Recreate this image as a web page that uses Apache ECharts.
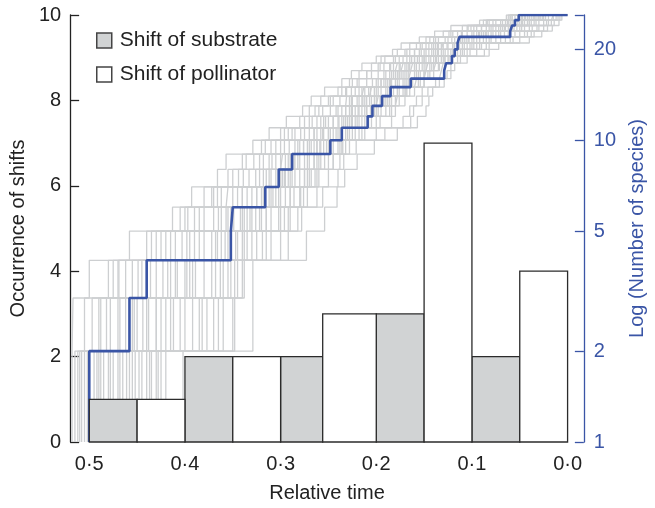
<!DOCTYPE html>
<html><head><meta charset="utf-8">
<script src="https://cdn.jsdelivr.net/npm/echarts@6/dist/echarts.min.js"></script>
<style>html,body{margin:0;padding:0;background:#fff}#c{width:655px;height:508px}</style>
</head><body><div id="c"></div>
<script>
// Histogram of shifts (relative time bins, left axis)
const binStart = [0.5, 0.45, 0.4, 0.35, 0.3, 0.256, 0.2, 0.15, 0.1, 0.05];
const binEnd   = [0.45, 0.4, 0.35, 0.3, 0.256, 0.2, 0.15, 0.1, 0.05, 0.0];
const shiftCounts = [1, 1, 2, 2, 2, 3, 3, 7, 2, 4];
const shiftTypes = ['substrate','pollinator','substrate','pollinator','substrate','pollinator','substrate','pollinator','substrate','pollinator'];

// Lineage-through-time: time at which lineage count rises to 2,3,...,26
const blueTimes = [0.500,0.458,0.440,0.352,0.350,0.316,0.302,0.288,0.248,0.236,0.209,0.204,0.194,0.185,0.164,0.129,0.127,0.121,0.118,0.115,0.113,0.060,0.058,0.055,0.051];

const grayRun1  = [0.518,0.517,0.500,0.458,0.413,0.393,0.366,0.357,0.329,0.312,0.294,0.277,0.268,0.254,0.236,0.226,0.215,0.200,0.183,0.174,0.155,0.139,0.122,0.092,0.064];
const grayRun2  = [0.402,0.329,0.329,0.273,0.254,0.241,0.233,0.220,0.202,0.178,0.157,0.148,0.145,0.141,0.129,0.122,0.118,0.105,0.082,0.072,0.040,0.027,0.016,0.009,0.006];
const grayRun3  = [0.502,0.497,0.469,0.430,0.397,0.370,0.339,0.336,0.316,0.292,0.267,0.264,0.250,0.231,0.225,0.210,0.196,0.191,0.168,0.154,0.144,0.122,0.101,0.084,0.055];
const grayRun4  = [0.490,0.453,0.449,0.403,0.357,0.355,0.326,0.309,0.291,0.279,0.253,0.232,0.231,0.226,0.204,0.190,0.186,0.176,0.153,0.138,0.121,0.111,0.090,0.063,0.047];
const grayRun5  = [0.461,0.444,0.423,0.366,0.349,0.325,0.300,0.298,0.272,0.245,0.239,0.219,0.207,0.205,0.188,0.174,0.172,0.157,0.132,0.130,0.103,0.083,0.080,0.055,0.035];
const grayRun6  = [0.455,0.405,0.389,0.347,0.326,0.302,0.280,0.275,0.259,0.232,0.205,0.200,0.198,0.186,0.166,0.164,0.162,0.143,0.117,0.113,0.092,0.072,0.053,0.042,0.032];
const grayRun7  = [0.437,0.377,0.363,0.319,0.302,0.279,0.260,0.254,0.240,0.212,0.184,0.180,0.178,0.169,0.150,0.148,0.146,0.129,0.102,0.098,0.075,0.055,0.037,0.030,0.023];
const grayRun8  = [0.420,0.348,0.338,0.292,0.278,0.256,0.240,0.234,0.221,0.191,0.164,0.161,0.158,0.152,0.134,0.132,0.130,0.115,0.087,0.082,0.057,0.038,0.021,0.017,0.015];
const grayRun9  = [0.500,0.470,0.455,0.410,0.370,0.345,0.318,0.300,0.280,0.255,0.230,0.215,0.200,0.185,0.170,0.158,0.150,0.135,0.115,0.100,0.080,0.060,0.040,0.025,0.015];
const grayRun10 = [0.430,0.350,0.345,0.300,0.290,0.280,0.270,0.265,0.255,0.240,0.225,0.210,0.205,0.195,0.180,0.172,0.165,0.155,0.140,0.132,0.118,0.105,0.090,0.070,0.050];
const grayRun11 = [0.475,0.420,0.400,0.380,0.335,0.310,0.290,0.285,0.265,0.262,0.245,0.225,0.215,0.213,0.195,0.180,0.178,0.165,0.160,0.145,0.135,0.110,0.098,0.075,0.060];
const grayRun12 = [0.510,0.430,0.395,0.340,0.315,0.290,0.275,0.245,0.235,0.222,0.215,0.190,0.170,0.160,0.158,0.140,0.138,0.125,0.108,0.090,0.065,0.045,0.030,0.020,0.010];
const grayRun13 = [0.512,0.488,0.470,0.420,0.380,0.362,0.333,0.318,0.300,0.285,0.262,0.248,0.238,0.222,0.210,0.198,0.185,0.172,0.160,0.148,0.128,0.115,0.095,0.078,0.058];
const grayRun14 = [0.470,0.430,0.380,0.355,0.340,0.318,0.295,0.270,0.262,0.250,0.236,0.222,0.214,0.200,0.190,0.182,0.168,0.150,0.138,0.120,0.110,0.092,0.075,0.062,0.044];
const grayRun15 = [0.445,0.400,0.372,0.335,0.310,0.295,0.285,0.260,0.248,0.228,0.220,0.205,0.190,0.178,0.172,0.160,0.152,0.140,0.125,0.110,0.098,0.085,0.065,0.050,0.040];
const grayRun16 = [0.505,0.478,0.430,0.395,0.365,0.335,0.310,0.290,0.268,0.258,0.240,0.232,0.220,0.206,0.198,0.186,0.175,0.160,0.148,0.140,0.125,0.098,0.085,0.060,0.042];
const grayRun17 = [0.485,0.462,0.436,0.390,0.342,0.330,0.305,0.280,0.276,0.265,0.250,0.240,0.225,0.218,0.200,0.192,0.182,0.168,0.155,0.142,0.112,0.100,0.070,0.058,0.038];
const grayRun18 = [0.452,0.385,0.360,0.330,0.300,0.286,0.268,0.258,0.245,0.236,0.208,0.195,0.184,0.176,0.162,0.154,0.140,0.132,0.120,0.105,0.088,0.070,0.058,0.040,0.028];
const grayRun19 = [0.515,0.505,0.480,0.440,0.405,0.380,0.350,0.328,0.310,0.296,0.280,0.270,0.258,0.240,0.228,0.218,0.205,0.195,0.178,0.165,0.148,0.130,0.110,0.088,0.062];
const grayRun20 = [0.425,0.360,0.340,0.310,0.282,0.262,0.250,0.238,0.228,0.200,0.172,0.165,0.152,0.146,0.138,0.126,0.122,0.112,0.095,0.085,0.050,0.035,0.025,0.014,0.008];
const grayRun21 = [0.495,0.440,0.415,0.372,0.352,0.340,0.312,0.295,0.285,0.270,0.258,0.242,0.228,0.212,0.195,0.178,0.160,0.145,0.128,0.120,0.106,0.090,0.068,0.045,0.030];
const grayRun22 = [0.465,0.412,0.408,0.358,0.330,0.305,0.292,0.282,0.252,0.242,0.226,0.212,0.202,0.190,0.176,0.166,0.158,0.148,0.135,0.125,0.100,0.078,0.060,0.052,0.045];
const grayRun23 = [0.480,0.455,0.440,0.425,0.390,0.350,0.322,0.312,0.296,0.275,0.255,0.236,0.226,0.215,0.185,0.170,0.160,0.150,0.145,0.136,0.115,0.095,0.078,0.065,0.052];
const grayRun24 = [0.440,0.392,0.352,0.345,0.320,0.300,0.275,0.265,0.232,0.218,0.200,0.184,0.176,0.165,0.150,0.144,0.135,0.120,0.110,0.095,0.070,0.050,0.045,0.035,0.020];
const grayRun25 = [0.508,0.482,0.462,0.415,0.385,0.366,0.344,0.322,0.305,0.288,0.270,0.256,0.245,0.232,0.218,0.205,0.192,0.180,0.165,0.152,0.138,0.120,0.104,0.082,0.060];
const grayRun26 = [0.458,0.425,0.418,0.362,0.332,0.320,0.300,0.288,0.270,0.250,0.232,0.218,0.210,0.198,0.184,0.176,0.170,0.160,0.142,0.130,0.112,0.088,0.072,0.056,0.040];
const grayRun27 = [0.492,0.468,0.445,0.398,0.362,0.340,0.315,0.305,0.282,0.265,0.245,0.226,0.218,0.208,0.192,0.184,0.176,0.163,0.150,0.135,0.108,0.093,0.082,0.068,0.048];
const grayRun28 = [0.448,0.370,0.355,0.325,0.296,0.272,0.262,0.250,0.238,0.225,0.212,0.198,0.188,0.170,0.156,0.150,0.142,0.128,0.112,0.102,0.085,0.062,0.048,0.033,0.025];
const grayRun29 = [0.478,0.450,0.410,0.385,0.355,0.325,0.298,0.292,0.262,0.248,0.228,0.210,0.196,0.188,0.178,0.168,0.155,0.138,0.122,0.115,0.095,0.080,0.062,0.047,0.036];
const grayRun30 = [0.500,0.490,0.475,0.435,0.400,0.372,0.355,0.340,0.320,0.300,0.275,0.260,0.248,0.236,0.220,0.210,0.198,0.182,0.170,0.158,0.140,0.124,0.105,0.085,0.058];
const grayRun31 = [0.435,0.382,0.368,0.338,0.315,0.290,0.272,0.262,0.250,0.230,0.218,0.202,0.192,0.182,0.168,0.156,0.148,0.137,0.130,0.118,0.092,0.075,0.056,0.040,0.026];
const grayRun32 = [0.468,0.438,0.392,0.368,0.338,0.312,0.288,0.272,0.258,0.238,0.222,0.206,0.186,0.172,0.164,0.150,0.144,0.130,0.118,0.108,0.082,0.066,0.050,0.038,0.030];
const grayRun33 = [0.488,0.415,0.398,0.352,0.322,0.308,0.296,0.286,0.276,0.256,0.234,0.228,0.212,0.202,0.186,0.176,0.166,0.152,0.136,0.126,0.104,0.086,0.066,0.048,0.034];
const grayRun34 = [0.428,0.365,0.348,0.315,0.292,0.276,0.264,0.245,0.236,0.215,0.196,0.186,0.180,0.168,0.154,0.146,0.134,0.124,0.105,0.092,0.060,0.042,0.032,0.022,0.012];
const grayRuns = [grayRun1,grayRun2,grayRun3,grayRun4,grayRun5,grayRun6,grayRun7,grayRun8,grayRun9,grayRun10,grayRun11,grayRun12,
                  grayRun13,grayRun14,grayRun15,grayRun16,grayRun17,grayRun18,grayRun19,grayRun20,grayRun21,grayRun22,grayRun23,grayRun24,
                  grayRun25,grayRun26,grayRun27,grayRun28,grayRun29,grayRun30,grayRun31,grayRun32,grayRun33,grayRun34];

const xTickValues = [0.5, 0.4, 0.3, 0.2, 0.1, 0.0];
const xTickLabels = ['0·5','0·4','0·3','0·2','0·1','0·0'];
const rightTickValues = [1, 2, 5, 10, 20];

const FONT = '"Liberation Sans", Arial, Helvetica, sans-serif';
const BLUE = '#3a55a6';
const GRAYFILL = '#d1d3d4';

function toSteps(times) {
  const pts = [];
  times.forEach((t, i) => { pts.push([t, i + 1]); pts.push([t, i + 2]); });
  pts.push([0, times.length + 1]);
  return pts;
}

function barData(type) {
  const out = [];
  for (let i = 0; i < shiftCounts.length; i++) {
    if (shiftTypes[i] === type) out.push([binStart[i], binEnd[i], shiftCounts[i]]);
  }
  return out;
}

function barRender(fill) {
  return function (params, api) {
    const p1 = api.coord([api.value(0), api.value(2)]);
    const p2 = api.coord([api.value(1), 0]);
    return {
      type: 'rect',
      shape: { x: p1[0], y: p1[1], width: p2[0] - p1[0], height: p2[1] - p1[1] },
      style: { fill: fill, stroke: '#2b2b2b', lineWidth: 1.3 }
    };
  };
}

const series = [];
grayRuns.forEach((run, i) => {
  series.push({
    type: 'line', name: 'sim' + i, xAxisIndex: 0, yAxisIndex: 1,
    data: toSteps(run), symbol: 'none', silent: true, z: 1,
    lineStyle: { color: '#cdcfd1', width: 1.3 }
  });
});
series.push({
  type: 'line', name: 'observed', xAxisIndex: 0, yAxisIndex: 1,
  data: toSteps(blueTimes), symbol: 'none', silent: true, z: 3,
  lineStyle: { color: BLUE, width: 2.6 }
});
series.push({
  type: 'custom', name: 'Shift of substrate', xAxisIndex: 0, yAxisIndex: 0, z: 5,
  data: barData('substrate'), encode: { x: [0, 1], y: 2 },
  itemStyle: { color: GRAYFILL }, renderItem: barRender(GRAYFILL)
});
series.push({
  type: 'custom', name: 'Shift of pollinator', xAxisIndex: 0, yAxisIndex: 0, z: 5,
  data: barData('pollinator'), encode: { x: [0, 1], y: 2 },
  itemStyle: { color: '#ffffff' }, renderItem: barRender('#ffffff')
});

const chart = echarts.init(document.getElementById('c'), null, { renderer: 'canvas' });
chart.setOption({
  animation: false,
  backgroundColor: '#fff',
  textStyle: { fontFamily: FONT },
  grid: { left: 70, right: 70, top: 15, bottom: 65 },
  legend: {
    orient: 'vertical', left: 91, top: 25, itemWidth: 15, itemHeight: 15, itemGap: 13,
    textStyle: { fontSize: 21, color: '#222', fontFamily: FONT, padding: [0, 0, 0, 3] },
    data: [
      { name: 'Shift of substrate', icon: 'rect', itemStyle: { color: GRAYFILL, borderColor: '#444', borderWidth: 1.5 } },
      { name: 'Shift of pollinator', icon: 'rect', itemStyle: { color: '#fff', borderColor: '#444', borderWidth: 1.5 } }
    ]
  },
  xAxis: {
    type: 'value', min: -0.017, max: 0.52, inverse: true,
    axisLine: { show: false }, axisTick: { show: false }, splitLine: { show: false },
    axisLabel: {
      customValues: xTickValues, fontSize: 20, color: '#222', margin: 12, fontFamily: FONT,
      formatter: v => { const i = xTickValues.findIndex(x => Math.abs(x - v) < 1e-9); return i >= 0 ? xTickLabels[i] : ''; }
    },
    name: 'Relative time', nameLocation: 'middle', nameGap: 41,
    nameTextStyle: { fontSize: 20, color: '#222', fontFamily: FONT }
  },
  yAxis: [
    {
      type: 'value', min: 0, max: 10, interval: 2, position: 'left',
      axisLine: { show: true, onZero: false, lineStyle: { color: '#222', width: 1.3 } },
      axisTick: { show: true, inside: true, length: 9, lineStyle: { color: '#222', width: 1.3 } },
      axisLabel: { fontSize: 20, color: '#222', margin: 9, fontFamily: FONT },
      splitLine: { show: false },
      name: 'Occurrence of shifts', nameLocation: 'middle', nameGap: 42, nameRotate: 90,
      nameTextStyle: { fontSize: 20, color: '#222', fontFamily: FONT }
    },
    {
      type: 'log', logBase: 10, min: 1, max: 26, position: 'right',
      axisLine: { show: true, onZero: false, lineStyle: { color: BLUE, width: 1.3 } },
      axisTick: { show: true, inside: true, length: 9, lineStyle: { color: BLUE, width: 1.3 }, customValues: [1, 2, 5, 10, 20, 26] },
      axisLabel: { customValues: rightTickValues, fontSize: 20, color: BLUE, margin: 10, fontFamily: FONT },
      splitLine: { show: false },
      name: 'Log (Number of species)', nameLocation: 'middle', nameGap: 42, nameRotate: 90,
      nameTextStyle: { fontSize: 20, color: BLUE, fontFamily: FONT }
    }
  ],
  series: series
});
</script>
</body></html>
